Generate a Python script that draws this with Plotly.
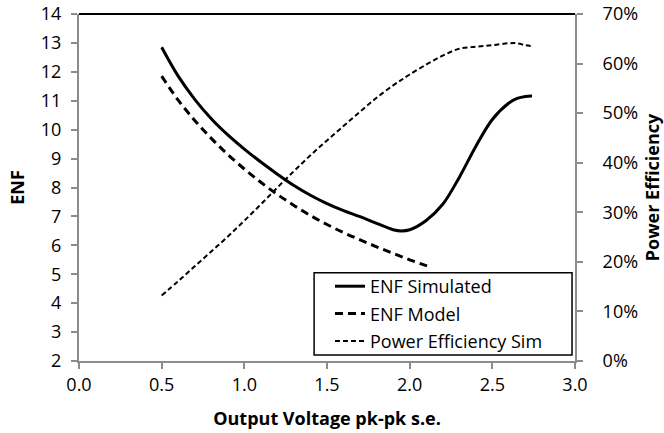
import plotly.graph_objects as go

# Output voltage sweep (pk-pk, single-ended)
volt_sim = [0.5, 0.6, 0.7, 0.8, 0.9, 1.0, 1.1, 1.2, 1.3, 1.4, 1.5, 1.6, 1.7, 1.8,
            1.9, 1.95, 2.0, 2.1, 2.2, 2.3, 2.4, 2.5, 2.6, 2.65, 2.7, 2.74]
enf_sim = [12.85, 11.85, 11.05, 10.38, 9.82, 9.33, 8.88, 8.46, 8.07, 7.73, 7.44, 7.2,
           6.99, 6.76, 6.54, 6.5, 6.54, 6.86, 7.42, 8.35, 9.42, 10.35, 10.92, 11.08,
           11.15, 11.16]

volt_model = [0.5, 0.6, 0.7, 0.8, 0.9, 1.0, 1.1, 1.2, 1.3, 1.4, 1.5, 1.6, 1.7, 1.8,
              1.9, 2.0, 2.1, 2.13]
enf_model = [11.85, 11.02, 10.32, 9.7, 9.14, 8.64, 8.18, 7.76, 7.38, 7.03, 6.72, 6.44,
             6.19, 5.95, 5.72, 5.5, 5.3, 5.24]

eff_sim = [0.132, 0.161, 0.191, 0.221, 0.251, 0.283, 0.316, 0.35, 0.383, 0.415, 0.445,
           0.474, 0.503, 0.531, 0.556, 0.567, 0.578, 0.598, 0.616, 0.630, 0.634, 0.637,
           0.641, 0.641, 0.637, 0.635]

AXIS_GREY = "#8c8c8c"
FONT = "Open Sans"

fig = go.Figure()
fig.add_trace(go.Scatter(
    x=volt_sim, y=enf_sim, name="ENF Simulated", mode="lines",
    line=dict(color="black", width=3, shape="spline"), legendgroup="a"))
fig.add_trace(go.Scatter(
    x=volt_model, y=enf_model, name="ENF Model", mode="lines",
    line=dict(color="black", width=3, dash="8px,5px", shape="spline"), legendgroup="b"))
fig.add_trace(go.Scatter(
    x=volt_sim, y=eff_sim, name="Power Efficiency Sim", mode="lines", yaxis="y2",
    line=dict(color="black", width=2, dash="5px,3px", shape="spline"), legendgroup="c"))

axis_common = dict(
    showline=True, linecolor=AXIS_GREY, linewidth=2,
    ticks="outside", ticklen=6, tickwidth=2, tickcolor=AXIS_GREY,
    showgrid=False, zeroline=False, automargin=False,
    tickfont=dict(family=FONT, size=18, color="black"),
)

fig.update_layout(
    width=664, height=433,
    margin=dict(l=79, r=89, t=14, b=72),
    paper_bgcolor="white", plot_bgcolor="white",
    font=dict(family=FONT, color="black"),
    xaxis=dict(range=[0, 3], dtick=0.5, tickformat=".1f", **axis_common,
               title=dict(text="<b>Output Voltage pk-pk s.e.</b>",
                          font=dict(family=FONT, size=18), standoff=18)),
    yaxis=dict(range=[2, 14], dtick=1, ticklabelstandoff=6, **axis_common,
               title=dict(text="<b>ENF</b>", font=dict(family=FONT, size=18), standoff=12)),
    yaxis2=dict(range=[0, 0.7], dtick=0.1, tickformat=".0%", overlaying="y",
                side="right", ticklabelstandoff=16, **axis_common,
                title=dict(text="<b>Power Efficiency</b>",
                           font=dict(family=FONT, size=18), standoff=12)),
    legend=dict(x=0.506, y=0.268, xanchor="left", yanchor="top",
                borderwidth=0, bgcolor="rgba(0,0,0,0)",
                font=dict(family=FONT, size=18), tracegroupgap=1,
                traceorder="grouped"),
    showlegend=True,
    shapes=[
        dict(type="line", xref="paper", yref="paper", x0=0, x1=1, y0=1, y1=1,
             line=dict(color="black", width=2)),
        # frame around the legend entries
        dict(type="rect", xref="paper", yref="paper", x0=0.474, x1=0.994,
             y0=0.017, y1=0.254, line=dict(color="black", width=1.5),
             fillcolor="white", layer="above"),
    ],
)

fig.write_html("out.html")
